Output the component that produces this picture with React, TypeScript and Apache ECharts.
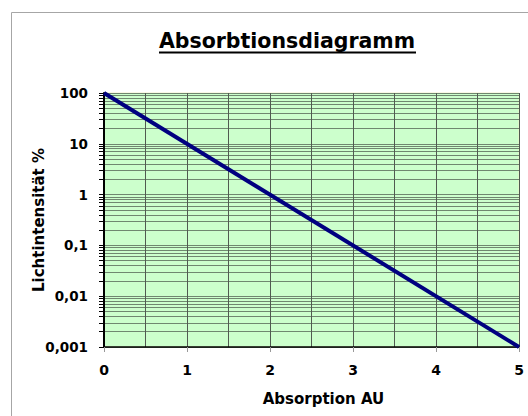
import React, { useEffect, useRef } from "react";
import * as echarts from "echarts";

const absorption = [0, 5];
const intensity = [100, 0.001];
const yMajor = [0.001, 0.01, 0.1, 1, 10, 100];
const minorFactors = [2, 3, 4, 5, 6, 7, 8, 9];
const xTicks = [0, 1, 2, 3, 4, 5];

const FONT = "DejaVu Sans";

export default function App() {
  const ref = useRef<HTMLDivElement>(null);
  useEffect(() => {
    if (!ref.current) return;
    document.body.style.margin = "0";
    document.body.style.overflow = "hidden";
    document.documentElement.style.overflow = "hidden";
    const chart = echarts.init(ref.current, null, { renderer: "svg" });
    const majorLog = yMajor.map((v) => Math.log10(v));
    const allTicks: number[] = [];
    yMajor.forEach((m, i) => {
      allTicks.push(Math.log10(m));
      if (i < yMajor.length - 1) minorFactors.forEach((f) => allTicks.push(Math.log10(m * f)));
    });
    const fmtY = (v: number) => {
      const m = yMajor.find((x) => Math.abs(Math.log10(x) - v) < 1e-9);
      return m === undefined ? "" : String(m).replace(".", ",");
    };
    chart.setOption({
      animation: false,
      grid: {
        left: 104,
        right: 9,
        top: 93,
        bottom: 69,
        show: true,
        backgroundColor: "#ccffcc",
        borderColor: "#f2f2c8",
        borderWidth: 1,
      },
      graphic: [
        {
          type: "rect",
          shape: { x: 11.5, y: 12.5, width: 620, height: 520 },
          style: { fill: "none", stroke: "#a6a6a6", lineWidth: 1 },
          silent: true,
        },
        {
          type: "text",
          x: 287,
          y: 30,
          style: {
            text: "Absorbtionsdiagramm",
            align: "center",
            verticalAlign: "top",
            font: `bold 20.5px "${FONT}"`,
            fill: "#000",
          },
        },
        {
          type: "line",
          shape: { x1: 159, y1: 52.5, x2: 416, y2: 52.5 },
          style: { stroke: "#000", lineWidth: 2 },
        },
      ],
      xAxis: {
        type: "value",
        min: 0,
        max: 5,
        interval: 1,
        name: "Absorption AU",
        nameLocation: "middle",
        nameGap: 44,
        nameTextStyle: {
          fontFamily: FONT,
          fontWeight: "bold",
          fontSize: 15,
          color: "#000",
          padding: [0, 0, 0, 24],
        },
        axisLine: { show: true, onZero: false, lineStyle: { color: "#000", width: 1.5 } },
        axisTick: { show: true, length: 5, lineStyle: { color: "#999" }, customValues: xTicks },
        axisLabel: {
          customValues: xTicks,
          margin: 16,
          fontFamily: FONT,
          fontWeight: "bold",
          fontSize: 14,
          color: "#000",
        },
        splitLine: { show: true, lineStyle: { color: "#505a50", width: 1 } },
        minorTick: { show: false, splitNumber: 2 },
        minorSplitLine: { show: true, lineStyle: { color: "#505a50", width: 1 } },
      },
      yAxis: {
        type: "value",
        min: -3,
        max: 2,
        interval: 1,
        name: "Lichtintensität %",
        nameLocation: "middle",
        nameGap: 58,
        nameMoveOverlap: false,
        nameRotate: 90,
        nameTextStyle: { fontFamily: FONT, fontWeight: "bold", fontSize: 15, color: "#000" },
        axisLine: { show: true, onZero: false, lineStyle: { color: "#000", width: 2 } },
        axisTick: { show: true, length: 5, lineStyle: { color: "#000" }, customValues: allTicks },
        axisLabel: {
          customValues: majorLog,
          formatter: fmtY,
          margin: 16,
          fontFamily: FONT,
          fontWeight: "bold",
          fontSize: 13.5,
          color: "#000",
        },
        splitLine: { show: true, lineStyle: { color: "#6f876f", width: 1 } },
      },
      series: [
        {
          type: "line",
          data: absorption.map((x, i) => [x, Math.log10(intensity[i])]),
          symbol: "none",
          lineStyle: { color: "#000080", width: 4 },
          clip: false,
        },
      ],
    });
    return () => chart.dispose();
  }, []);
  return <div ref={ref} style={{ width: 528, height: 416, position: "absolute", left: 0, top: 0 }} />;
}
